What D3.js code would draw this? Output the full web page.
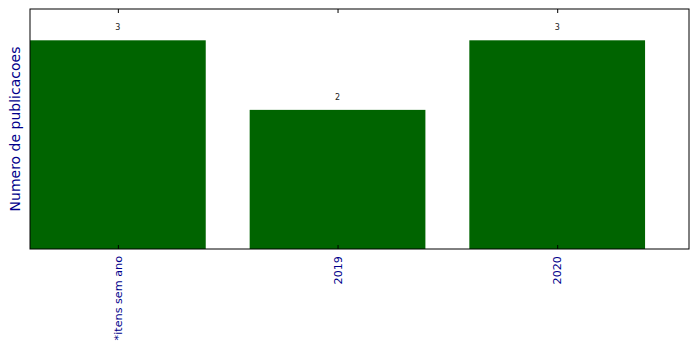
<!DOCTYPE html>
<html>
<head>
<meta charset="utf-8">
<script src="https://cdn.jsdelivr.net/npm/d3@7"></script>
<style>
  body { margin: 0; background: #fff; }
  text { font-family: "DejaVu Sans", sans-serif; }
</style>
</head>
<body>
<svg width="699" height="349"></svg>
<script>
// data for chart
var categories = ["*itens sem ano", "2019", "2020"];
var values = [3, 2, 3];

var svg = d3.select("svg"),
    margin = {top: 9, right: 10, bottom: 100, left: 30},
    width = +svg.attr("width") - margin.left - margin.right,
    height = +svg.attr("height") - margin.top - margin.bottom;

var x = d3.scaleLinear()
    .domain([-0.4, categories.length - 0.4])
    .range([0, width]);

var y = d3.scaleLinear()
    .domain([0, d3.max(values) * 1.15])
    .range([height, 0]);

var chart = svg.append("g")
    .attr("transform", "translate(" + margin.left + "," + margin.top + ")");

// add the bars
chart.selectAll(".bar")
    .data(values)
    .enter()
    .append("rect")
    .attr("class", "bar")
    .attr("x", (d, i) => x(i - 0.4))
    .attr("width", (d, i) => x(i + 0.4) - x(i - 0.4))
    .attr("y", d => y(d))
    .attr("height", d => height - y(d))
    .style("fill", "#006400");

// value labels
chart.selectAll(".val")
    .data(values)
    .enter()
    .append("text")
    .attr("class", "val")
    .attr("text-anchor", "middle")
    .attr("x", (d, i) => x(i))
    .attr("y", d => y(d) - 10)
    .style("font-size", "8px")
    .style("fill", "#222")
    .text(d => d);

// ticks top and bottom, pointing inward
var idx = d3.range(categories.length);
var xBottom = d3.axisBottom(x).tickValues(idx).tickSizeInner(-4).tickSizeOuter(0).tickFormat("");
var xTop = d3.axisTop(x).tickValues(idx).tickSizeInner(-4).tickSizeOuter(0).tickFormat("");

chart.append("g").attr("transform", "translate(0," + height + ")").call(xBottom)
    .call(g => g.select(".domain").remove());
chart.append("g").call(xTop)
    .call(g => g.select(".domain").remove());

// rotated category labels
chart.selectAll(".cat")
    .data(categories)
    .enter()
    .append("text")
    .attr("class", "cat")
    .attr("text-anchor", "end")
    .attr("transform", (d, i) => "translate(" + (x(i) + 4) + "," + (height + 7) + ") rotate(-90)")
    .style("font-size", "11.2px")
    .style("fill", "#00008b")
    .text(d => d);

// frame
chart.append("rect")
    .attr("x", 0).attr("y", 0)
    .attr("width", width).attr("height", height)
    .style("fill", "none")
    .style("stroke", "#000")
    .style("stroke-width", 1);

// y-axis label
svg.append("text")
    .attr("text-anchor", "middle")
    .attr("transform", "translate(20," + (margin.top + height / 2) + ") rotate(-90)")
    .style("font-size", "14px")
    .style("fill", "#00008b")
    .text("Numero de publicacoes");
</script>
</body>
</html>
